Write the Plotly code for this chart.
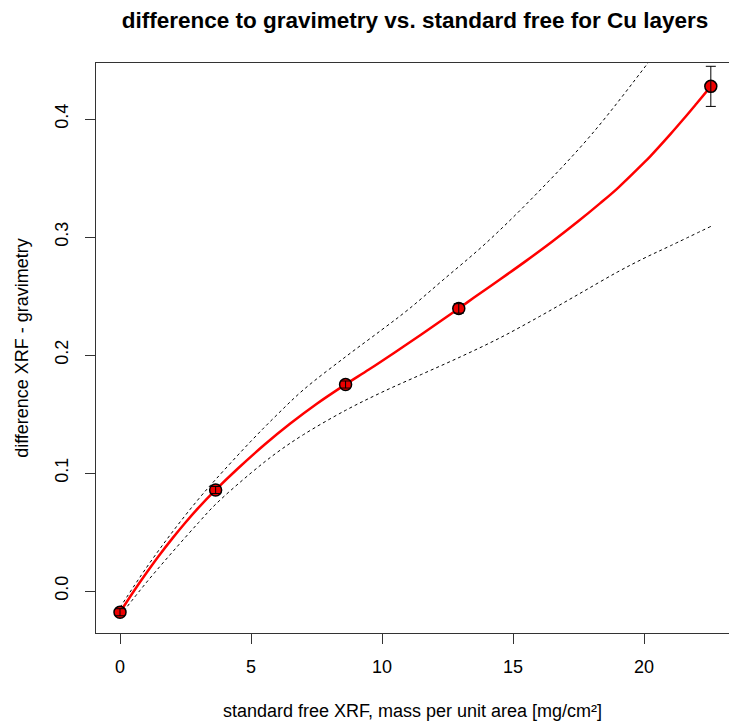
import plotly.graph_objects as go

# measured points
pt_x = [0.0, 3.65, 8.61, 12.93, 22.55]
pt_y = [-0.0180, 0.0856, 0.1750, 0.2395, 0.4277]
pt_err = [0.003, 0.003, 0.003, 0.004, 0.017]

# fitted curve (red)
fit_x = [0.0, 0.5, 1.0, 1.5, 2.0, 2.5, 3.0, 3.65, 4.5, 5.5, 6.5, 7.5, 8.61,
         9.5, 10.5, 11.5, 12.93, 13.5, 14.5, 15.5, 16.5, 17.5, 18.32, 19.0,
         20.0, 20.23, 21.0, 21.5, 22.0, 22.55]
fit_y = [-0.018, -0.001, 0.0150, 0.0303, 0.0446, 0.0581, 0.0707, 0.0857,
         0.1038, 0.1237, 0.1419, 0.1585, 0.1751, 0.1877, 0.2024, 0.2174,
         0.2395, 0.2485, 0.2640, 0.2798, 0.2962, 0.3135, 0.3285, 0.3415,
         0.3630, 0.3682, 0.3870, 0.3998, 0.4130, 0.4277]

# confidence band (dotted)
up_x = [0.0, 1.0, 2.0, 3.0, 3.65, 5.0, 6.0, 7.0, 8.61, 10.0, 11.0, 12.33,
        14.0, 16.0, 18.0, 20.15, 21.0, 22.55]
up_y = [-0.014, 0.0195, 0.050, 0.078, 0.0945, 0.127, 0.1495, 0.1705, 0.1985,
        0.2215, 0.2385, 0.2636, 0.2955, 0.339, 0.387, 0.4475, 0.473, 0.525]
lo_x = [0.0, 1.0, 2.0, 3.0, 3.65, 5.0, 6.0, 7.0, 8.6, 10.0, 11.5, 13.0, 14.5,
        16.0, 17.5, 19.0, 20.0, 21.0, 22.55]
lo_y = [-0.021, 0.007, 0.033, 0.058, 0.0735, 0.100, 0.1175, 0.1325, 0.153,
        0.1685, 0.1835, 0.1985, 0.2145, 0.2325, 0.2515, 0.2705, 0.282, 0.2925,
        0.309]

x_ticks = [0, 5, 10, 15, 20]
y_ticks = [0.0, 0.1, 0.2, 0.3, 0.4]
y_labels = ["0.0", "0.1", "0.2", "0.3", "0.4"]

FONT = "Liberation Sans, Arial, sans-serif"

fig = go.Figure()
fig.add_trace(go.Scatter(x=up_x, y=up_y, mode="lines", line_shape="spline",
                         line=dict(color="black", width=1, dash="dot"),
                         hoverinfo="skip", showlegend=False))
fig.add_trace(go.Scatter(x=lo_x, y=lo_y, mode="lines", line_shape="spline",
                         line=dict(color="black", width=1, dash="dot"),
                         hoverinfo="skip", showlegend=False))
fig.add_trace(go.Scatter(x=fit_x, y=fit_y, mode="lines", line_shape="spline",
                         line=dict(color="#ff0000", width=2.5),
                         showlegend=False))
fig.add_trace(go.Scatter(x=pt_x, y=pt_y, mode="markers",
                         marker=dict(color="#ee0000", size=12,
                                     line=dict(color="black", width=1.5)),
                         showlegend=False))
fig.add_trace(go.Scatter(x=pt_x, y=pt_y, mode="markers",
                         marker=dict(opacity=0, size=1),
                         error_y=dict(type="data", array=pt_err, color="black",
                                      thickness=1, width=5),
                         showlegend=False, hoverinfo="skip"))

fig.update_layout(
    width=729, height=724,
    margin=dict(l=96, r=0, t=63, b=91),
    paper_bgcolor="white", plot_bgcolor="white",
    font=dict(family=FONT, color="black"),
    title=dict(text="<b>difference to gravimetry vs. standard free for Cu layers</b>",
               x=415 / 729, xanchor="center", xref="container",
               y=1 - 20 / 724, yanchor="middle", yref="container",
               font=dict(size=22.5, family=FONT, color="black")),
    xaxis=dict(range=[-0.916, 23.244], tickvals=x_ticks,
               showgrid=False, zeroline=False, showline=True,
               linecolor="#333333", linewidth=1, mirror=True,
               ticks="outside", ticklen=10, tickcolor="#333333",
               tickfont=dict(size=18, family=FONT, color="black"),
               ticklabelstandoff=7,
               title=dict(text="standard free XRF, mass per unit area [mg/cm²]",
                          font=dict(size=18, family=FONT, color="black"),
                          standoff=28)),
    yaxis=dict(range=[-0.0356, 0.4475], tickvals=y_ticks, ticktext=y_labels,
               showgrid=False, zeroline=False, showline=True,
               linecolor="#333333", linewidth=1,
               ticks="outside", ticklen=10, tickcolor="#333333",
               tickangle=-90,
               tickfont=dict(size=18, family=FONT, color="black"),
               ticklabelstandoff=10,
               title=dict(text="difference XRF - gravimetry",
                          font=dict(size=18, family=FONT, color="black"),
                          standoff=18)),
)

fig.write_html("out.html")
